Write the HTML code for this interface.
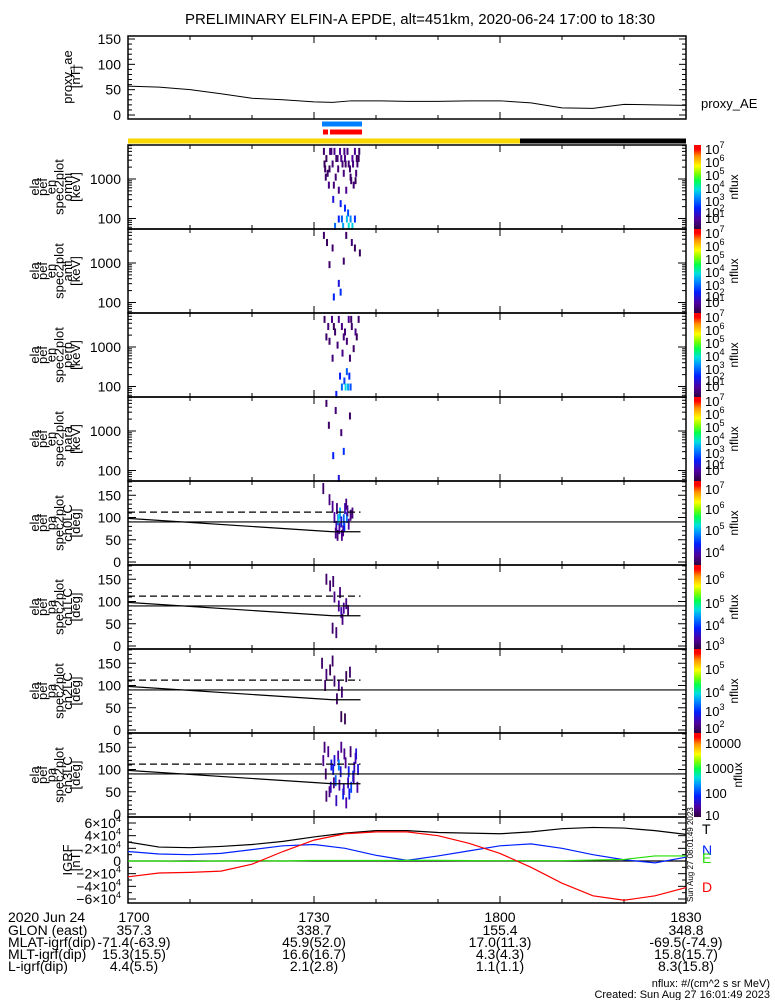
<!DOCTYPE html>
<html><head><meta charset="utf-8"><style>
html,body{margin:0;padding:0;background:#fff}
svg{display:block;font-family:"Liberation Sans",sans-serif}
</style></head><body>
<svg id="s" width="775" height="1000" viewBox="0 0 775 1000" xmlns="http://www.w3.org/2000/svg">
<defs>
<linearGradient id="ct" x1="0" y1="1" x2="0" y2="0">
<stop offset="0" stop-color="#300040"/><stop offset="0.12" stop-color="#5000a0"/><stop offset="0.25" stop-color="#0020ff"/><stop offset="0.38" stop-color="#0090ff"/><stop offset="0.47" stop-color="#00e0e0"/><stop offset="0.57" stop-color="#00ff50"/><stop offset="0.66" stop-color="#80ff00"/><stop offset="0.75" stop-color="#ffff00"/><stop offset="0.87" stop-color="#ff9000"/><stop offset="0.95" stop-color="#ff0000"/><stop offset="1" stop-color="#ff0000"/>
</linearGradient>
</defs>
<text x="420" y="24" font-size="15" text-anchor="middle">PRELIMINARY ELFIN-A EPDE, alt=451km, 2020-06-24 17:00 to 18:30</text>
<g id="g"></g>
</svg>
<script>
// ---- data ----
const aeTimes=[0,5,10,15,20,25,30,33,36,40,45,50,55,60,65,70,75,80,85,90];
const aeValues=[57,55,50,42,33,30,26,25,28,28,27,27,28,28,24,14,13,21,20,19];
const igrfTimes=[0,5,10,15,20,25,30,35,40,45,50,55,60,65,70,75,80,85,90];
const igrfT=[30000,22000,21000,23000,26000,31000,38000,44000,48000,48000,45000,44000,43000,46000,51000,53000,52000,48000,42000];
const igrfN=[15000,11000,10000,12000,18000,24000,26000,20000,9000,1000,8000,16000,24000,27000,20000,10000,2000,-3000,6000];
const igrfE=[0,0,-500,0,500,0,800,800,800,1000,1000,600,500,500,500,1500,2500,8000,8000];
const igrfD=[-25000,-19000,-18000,-16000,-5000,15000,33000,43000,46000,46000,40000,28000,12000,-10000,-35000,-55000,-62000,-55000,-42000];
const omniT=[31.6,32.0,32.6,33.0,33.3,33.8,34.2,34.6,35.0,35.4,35.8,36.2,36.6,37.0,37.3,32.2,33.5,34.8,36.0,36.8,32.4,34.0,35.2,36.4,33.1,34.3,35.0,35.5,34.5,35.3,35.9,34.0,35.6,34.7,36.2,33.4,36.6,31.8,34.4,31.7,32.8,33.6,34.9,35.6,36.9,32.5,33.9,35.1,36.3,37.2,31.9,33.2,35.9,36.7];
const omniE=[5000,3300,5000,2400,5000,3300,5000,2400,3300,5000,1800,3300,5000,2400,5000,1395,1115,1395,908,1395,700,520,520,700,305,238,183,138,97,97,97,97,63,63,63,63,97,1800,3300,2400,5000,3300,5000,2400,3300,1800,1800,2400,2400,3300,1115,700,1115,908];
const omniF=[1.3,1.2,1.5,1.4,1.6,1.5,1.7,1.4,1.6,1.5,1.3,1.7,1.6,1.4,1.3,1.3,1.4,1.5,1.3,1.4,1.5,1.5,1.6,1.4,2.2,2.4,2.6,2.8,2.9,3.6,3.2,2.5,3.9,3.4,3.7,3.0,2.6,1.3,1.5,1.2,1.4,1.3,1.5,1.4,1.3,1.2,1.4,1.3,1.5,1.2,1.3,1.4,1.3,1.2];
const antiT=[31.6,32.1,33.0,35.2,36.1,37.4,32.5,34.0,34.3,33.2,34.8,36.6];
const antiE=[5000,3300,2400,5000,3300,1800,908,305,183,138,1115,2400];
const antiF=[1.3,1.2,1.4,1.3,1.4,1.2,1.3,2.2,2.6,2.5,1.3,1.2];
const perpT=[31.7,32.3,32.9,33.4,34.0,34.5,35.0,35.6,36.1,36.7,37.2,32.5,33.8,35.3,36.4,33.0,34.6,35.8,34.2,34.9,35.3,35.7,34.5,35.1,35.5,35.9,33.6,32.0,33.2,34.8,36.0,36.9];
const perpE=[5000,3300,5000,2400,5000,3300,2400,5000,3300,2400,5000,1395,1115,1395,908,520,700,520,183,138,238,183,97,97,97,97,63,1800,3300,1800,5000,1800];
const perpF=[1.3,1.4,1.5,1.3,1.6,1.5,1.4,1.6,1.3,1.5,1.3,1.3,1.4,1.4,1.3,1.4,1.5,1.4,2.4,2.7,2.9,2.5,3.0,3.8,3.4,2.8,2.4,1.3,1.2,1.4,1.3,1.2];
const paraT=[32.0,33.5,35.8,32.4,34.4,34.8,33.1,34.0];
const paraE=[5000,3300,2400,1395,908,305,238,63];
const paraF=[1.3,1.4,1.3,1.3,1.4,2.6,2.5,2.2];
const ch0T=[32.5,33.0,33.3,33.6,33.9,34.2,34.4,34.7,35.0,35.3,35.6,35.9,33.8,34.5,35.2,34.0,34.9,36.2,33.5,31.5,34.1,34.8,35.4,33.7];
const ch0P=[140,125,100,80,95,110,90,70,120,100,85,105,60,60,130,95,80,110,65,165,75,95,115,120];
const ch0F=[3.3,3.4,3.5,3.6,4.2,4.6,3.8,3.4,3.6,4.4,3.5,3.3,3.3,3.4,3.3,4.8,4.0,3.3,3.4,3.2,3.5,4.3,3.4,3.3];
const ch1T=[32.0,32.6,33.3,34.0,34.4,34.8,35.2,35.5,33.0,33.6,34.6,33.1,34.2];
const ch1P=[150,135,110,90,75,85,95,80,40,30,60,145,120];
const ch1F=[3.2,3.2,3.3,3.4,3.5,3.4,3.3,3.2,3.2,3.2,3.3,3.2,3.3];
const ch2T=[31.3,32.0,32.6,33.3,34.0,34.5,35.2,35.8,33.7,34.4,35.0,31.8,33.0];
const ch2P=[150,125,135,110,100,85,120,130,70,30,25,100,155];
const ch2F=[2.2,2.3,2.1,2.2,2.4,2.3,2.1,2.2,2.2,2.1,2.1,2.2,2.2];
const ch3T=[31.5,31.9,32.3,32.7,33.1,33.5,33.9,34.3,34.7,35.1,35.5,35.9,36.3,36.7,37.1,32.0,32.8,33.6,34.4,35.2,36.0,36.8,33.2,34.0,34.8,35.6,36.4,31.7,32.5,33.3,34.1,34.9,35.7,36.5,37.0];
const ch3P=[120,90,140,60,100,75,130,95,45,115,70,140,85,125,100,40,110,30,150,25,60,135,70,110,55,95,80,150,50,120,65,135,45,105,60];
const ch3F=[1.3,1.2,1.3,1.5,1.7,2.0,1.4,1.6,1.8,1.3,1.5,1.2,1.9,1.4,1.6,1.2,1.7,1.5,1.3,1.4,1.9,1.6,1.3,2.1,1.5,1.7,1.4,1.2,1.3,1.6,1.4,1.3,1.7,1.5,1.4];
const lcTimes=[0,33,37.5];
const lcSolid=[98,68,68];
const lcDash=[112,112,112];
const timeTicks=["1700","1730","1800","1830"];
const glon=["357.3","338.7","155.4","348.8"];
const mlat=["-71.4(-63.9)","45.9(52.0)","17.0(11.3)","-69.5(-74.9)"];
const mlt=["15.3(15.5)","16.6(16.7)","4.3(4.3)","15.8(15.7)"];
const lval=["4.4(5.5)","2.1(2.8)","1.1(1.1)","8.3(15.8)"];
</script>
<script>
const NS="http://www.w3.org/2000/svg",G=document.getElementById('g');
function mk(t,a,p){const e=document.createElementNS(NS,t);for(const k in a)e.setAttribute(k,a[k]);(p||G).appendChild(e);return e;}
const X0=128,X1=686;
const xs=t=>X0+(X1-X0)*t/90;
const cols=[[0,"#300040"],[0.12,"#5000a0"],[0.25,"#0020ff"],[0.38,"#0090ff"],[0.47,"#00e0e0"],[0.57,"#00ff50"],[0.66,"#80ff00"],[0.75,"#ffff00"],[0.87,"#ff9000"],[0.95,"#ff0000"],[1,"#ff0000"]];
function cmap(f){f=Math.max(0,Math.min(1,f));for(let i=1;i<cols.length;i++){if(f<=cols[i][0]){const a=cols[i-1],b=cols[i],u=(f-a[0])/(b[0]-a[0]||1);const h=s=>[1,3,5].map(j=>parseInt(s.substr(j,2),16));const A=h(a[1]),B=h(b[1]);return 'rgb('+A.map((v,j)=>Math.round(v+(B[j]-v)*u)).join(',')+')';}}return "#f00";}
function xTicks(y0,y1){for(let t=0;t<=90;t+=10){const x=xs(t),L=t%30==0?7:4;mk('line',{x1:x,x2:x,y1:y1,y2:y1-L,stroke:'#000'});mk('line',{x1:x,x2:x,y1:y0,y2:y0+L,stroke:'#000'});}}
function frame(y0,y1,name){const r=mk('rect',{x:X0,y:y0,width:X1-X0,height:y1-y0,fill:'none',stroke:'#000','stroke-width':1.5});xTicks(y0,y1);}
function ytick(y,L){mk('line',{x1:X0,x2:X0+L,y1:y,y2:y,stroke:'#000'});mk('line',{x1:X1,x2:X1-L,y1:y,y2:y,stroke:'#000'});}
function txt(x,y,s,fs,anc,name){const e=mk('text',{x:x,y:y,'font-size':fs,'text-anchor':anc||'start'});e.textContent=s;return e;}
function ytitle(cy,lines,name){const g=mk('g',{transform:'translate(0,'+cy+')'});const n=lines.length;lines.forEach((s,i)=>{const x=80-(n-1-i)*8.2;const e=mk('text',{x:0,y:0,'font-size':13,'text-anchor':'middle',transform:'translate('+x+',0) rotate(-90)'},g);e.textContent=s;});}
function pow10(x,y,base,exp,name){const e=mk('text',{x:x,y:y,'font-size':13});e.appendChild(document.createTextNode(base));const t=mk('tspan',{dy:-6,'font-size':9},e);t.textContent=exp;return e;}
function cbar(y0,y1,labels,name){const r=mk('rect',{x:694,y:y0,width:7,height:y1-y0,fill:'url(#ct)'});labels.forEach(l=>{if(l[2])pow10(705,l[0]+5,'10',l[1],'colorbar-tick');else txt(705,l[0]+5,l[1],13,'start','colorbar-tick');});const cy=(y0+y1)/2;const e=mk('text',{x:0,y:0,'font-size':12,'text-anchor':'middle',transform:'translate('+(labels.length&&!labels[0][2]?742:738)+','+cy+') rotate(-90)'});e.textContent='nflux';}

// proxy AE
const aeY=v=>115-v*76/150;
frame(36,119,'proxy-ae-panel');
[0,50,100,150].forEach(v=>{ytick(aeY(v),7);txt(121,aeY(v)+5,String(v),14,'end','y-tick-label');});
for(let v=10;v<160;v+=10)if(v%50)ytick(aeY(v),4);
ytitle(77,['proxy_ae','[nT]'],'proxy-ae-title');
{const p=mk('polyline',{points:aeTimes.map((t,i)=>xs(t)+','+aeY(aeValues[i])).join(' '),fill:'none',stroke:'#000','stroke-width':1});}
txt(701,108,'proxy_AE',13,'start','proxy-ae-legend');
// status bars
[['science-zone-bar',322,362,124,'#0080ff'],['fgm-bar-1',323,328,132,'#f00'],['fgm-bar-2',330,362,132,'#f00'],['orbit-sunlit-bar',128,520,141,'#f8d800'],['orbit-shadow-bar',520,686,141,'#000']].forEach(b=>{const r=mk('rect',{x:b[1],y:b[3]-2.5,width:b[2]-b[1],height:5,fill:b[4]});});

// energy panels
const eP=[[145,229,'omni',omniT,omniE,omniF],[229,313,'anti',antiT,antiE,antiF],[313,397,'perp',perpT,perpE,perpF],[397,481,'para',paraT,paraE,paraF]];
const eLab=[[4,'7'],[17,'6'],[30,'5'],[43,'4'],[56,'3'],[67,'2'],[73,'1']];
eP.forEach(p=>{const[y0,y1,nm,T,E,F]=p;const ey=e=>y1-10.5-39.5*Math.log10(e/100);
 T.forEach((t,i)=>{const r=mk('rect',{x:xs(t)-1,y:ey(E[i])-3.5,width:2,height:7,fill:cmap((F[i]-1)/6)});});
 frame(y0,y1,nm+'-energy-panel');
 for(let d=1;d<=3;d++)for(let m=1;m<10;m++){const v=10**d*m;const y=ey(v);if(y>y0&&y<y1)ytick(y,m==1?8:4);}
 [100,1000].forEach(v=>txt(121,ey(v)+5,String(v),14,'end','y-tick-label'));
 ytitle((y0+y1)/2,['ela','pef','en','spec2plot',nm,'[keV]'],nm+'-y-title');
 cbar(y0,y1,eLab.map(l=>[y0+l[0],l[1],1]),nm+'-colorbar');
});

// pitch-angle panels
const pP=[[481,565,'ch0LC',ch0T,ch0P,ch0F,3,7,[[8,'7'],[28,'6'],[49,'5'],[71,'4']]],[565,649,'ch1LC',ch1T,ch1P,ch1F,3,6.5,[[14,'6'],[38,'5'],[60,'4'],[80,'3']]],[649,733,'ch2LC',ch2T,ch2P,ch2F,2,6.2,[[20,'5'],[43,'4'],[62,'3'],[79,'2']]],[733,817,'ch3LC',ch3T,ch3P,ch3F,1,4.1,[[10,'10000',0],[35,'1000',0],[60,'100',0],[82,'10',0]]]];
pP.forEach((p,k)=>{const[y0,y1,nm,T,P,F,lo,hi,lab]=p;const py=v=>y1-3-v*0.445;
 T.forEach((t,i)=>{const r=mk('rect',{x:xs(t)-0.9,y:py(P[i])-5.5,width:1.8,height:11,fill:cmap((F[i]-lo)/(hi-lo))});});
 frame(y0,y1,nm+'-pa-panel');
 for(let v=0;v<=180;v+=10)ytick(py(v),v%50==0?8:4);
 [0,50,100,150].forEach(v=>txt(121,py(v)+5,String(v),14,'end','y-tick-label'));
 const l90=mk('line',{x1:X0,x2:X1,y1:py(90),y2:py(90),stroke:'#000','stroke-width':1.2});
 const ls=mk('polyline',{points:lcTimes.map((t,i)=>xs(t)+','+py(lcSolid[i])).join(' '),fill:'none',stroke:'#000','stroke-width':1.2});
 const ld=mk('polyline',{points:lcTimes.map((t,i)=>xs(t)+','+py(lcDash[i])).join(' '),fill:'none',stroke:'#000','stroke-width':1.2,'stroke-dasharray':'7,4'});
 ytitle((y0+y1)/2,['ela','pef','pa','spec2plot',nm,'[deg]'],nm+'-y-title');
 cbar(y0,y1,lab.map(l=>[y0+l[0],l[1],l[2]===0?0:1]),nm+'-colorbar');
});

// IGRF
const gy=v=>861-v*38/60000;
frame(817,903,'igrf-panel');
for(let v=-60000;v<=60000;v+=10000)ytick(gy(v),v%20000==0?8:4);
[[6,'6'],[4,'4'],[2,'2'],[0,''],[-2,'−2'],[-4,'−4'],[-6,'−6']].forEach(a=>{const y=gy(a[0]*10000)+5;if(a[0]==0)txt(121,y,'0',14,'end','y-tick-label');else{const e=mk('text',{x:121,y:y,'font-size':14,'text-anchor':'end'});e.appendChild(document.createTextNode(a[1]+'×10'));const t=mk('tspan',{dy:-6,'font-size':9},e);t.textContent='4';}});
{const z=mk('line',{x1:X0,x2:X1,y1:gy(0),y2:gy(0),stroke:'#000','stroke-width':1.2});}
ytitle(860,['IGRF','[nT]'],'igrf-y-title');
[[igrfT,'#000','igrf-t-line'],[igrfN,'#0020ff','igrf-n-line'],[igrfE,'#20e000','igrf-e-line'],[igrfD,'#f00','igrf-d-line']].forEach(s=>{const p=mk('polyline',{points:igrfTimes.map((t,i)=>xs(t)+','+gy(s[0][i])).join(' '),fill:'none',stroke:s[1],'stroke-width':1.2});});
[['T',829,'#000'],['N',850,'#0020ff'],['E',858,'#20e000'],['D',887,'#f00']].forEach(l=>{const e=txt(702,l[1]+5,l[0],14,'start','igrf-legend-'+l[0]);e.setAttribute('fill',l[2]);});
{const e=mk('text',{x:0,y:0,'font-size':8,transform:'translate(693,902) rotate(-90)'});e.textContent='Sun Aug 27 08:01:49 2023';}

// bottom annotations
const rows=[922,935,947,959,971];
['2020 Jun 24','GLON (east)','MLAT-igrf(dip)','MLT-igrf(dip)','L-igrf(dip)'].forEach((s,i)=>txt(8,rows[i],s,14,'start','row-label'));
[timeTicks,glon,mlat,mlt,lval].forEach((arr,r)=>arr.forEach((s,i)=>txt(xs(i*30)+(i==0?6:0),rows[r],s,14,'middle','x-annotation')));
txt(770,987,'nflux: #/(cm^2 s sr MeV)',11,'end','units-note');
txt(770,998,'Created: Sun Aug 27 16:01:49 2023',11,'end','created-note');
</script>
</body></html>
